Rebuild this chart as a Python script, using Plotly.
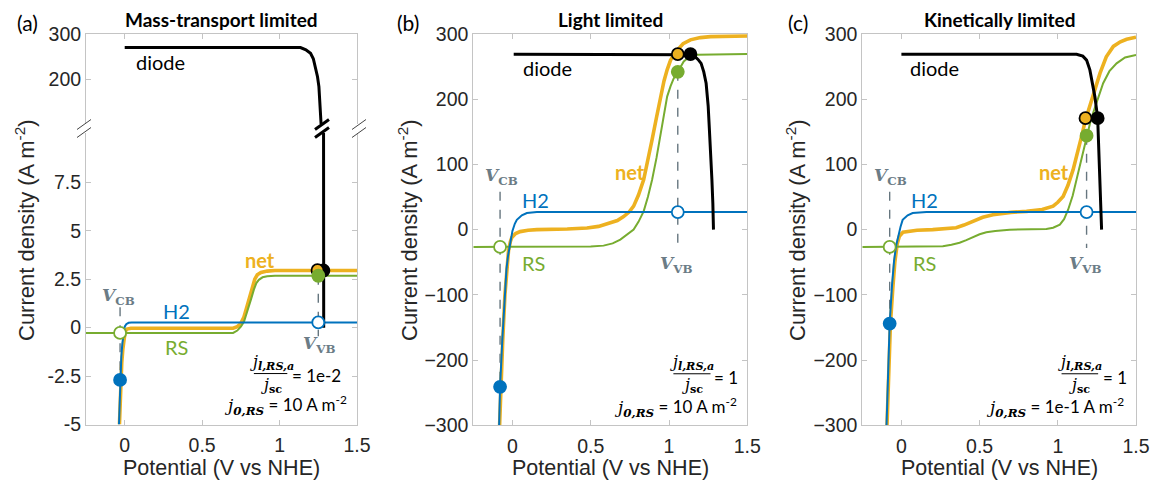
import plotly.graph_objects as go

W, H = 1151, 481
BLUE = '#0072BD'; ORANGE = '#EDB120'; GREEN = '#77AC30'; BLACK = '#000000'
VGRAY = '#6b7c86'; AXC = '#c4c4c4'; TXT = '#262626'

# ---------------- data ----------------
# Panel (a) Mass-transport limited
A_H2_X = [-0.037, -0.03, -0.022, -0.015, -0.008, 0.0, 0.01, 0.025, 0.045, 1.5]
A_H2_Y = [-5, -2.7, -1.5, -0.8, -0.25, 0.05, 0.18, 0.25, 0.27, 0.27]
A_RS_X = [-0.25, 0.70, 0.727, 0.75, 0.77, 0.785, 0.8, 0.817, 0.834, 0.85, 0.866, 0.89, 0.92, 0.97, 1.5]
A_RS_Y = [-0.27, -0.27, -0.15, 0.05, 0.3, 0.65, 1.0, 1.5, 1.96, 2.3, 2.47, 2.6, 2.65, 2.68, 2.68]
A_NET_X = [-0.034, -0.027, -0.019, -0.012, -0.005, 0.003, 0.015, 0.04, 0.70, 0.727, 0.748, 0.77,
           0.79, 0.807, 0.824, 0.84, 0.856, 0.88, 0.92, 0.97, 1.5]
A_NET_Y = [-5, -3.0, -1.8, -1.1, -0.5, -0.2, -0.07, -0.03, -0.03, 0.05, 0.2, 0.55,
           1.1, 1.6, 2.13, 2.5, 2.73, 2.85, 2.92, 2.95, 2.95]
A_DIODE_X = [0.0, 1.135, 1.17, 1.2, 1.218, 1.232, 1.245, 1.254, 1.262, 1.269, 1.275, 1.28, 1.283, 1.285]
A_DIODE_Y = [270, 270, 265, 257, 245, 227, 205, 183, 155, 124, 92, 50, 10, 0]
A_VCB, A_VVB = -0.03, 1.25
A_PTS = dict(h2_cb=-2.7, rs_cb=-0.27, h2_vb=0.27, rs_vb=2.68, net_x=1.245, net_vb=2.97,
             diode_x=1.283, diode_y=2.95)

# Panel (b) Light limited
B_H2_X = [-0.085, -0.079, -0.065, -0.05, -0.038, -0.028, -0.015, 0.0, 0.015, 0.028, 0.06, 0.092, 0.156, 1.5]
B_H2_Y = [-300, -241, -170, -100, -60, -40, -20, -2, 9, 15, 22, 25.5, 27, 27]
B_RS_X = [-0.25, 0.5, 0.582, 0.64, 0.689, 0.735, 0.774, 0.805, 0.838, 0.865, 0.892, 0.92, 0.945,
          0.968, 0.988, 1.01, 1.03, 1.056, 1.094, 1.13, 1.18, 1.5]
B_RS_Y = [-26.5, -26, -24.5, -21, -15.3, -7, 0, 12, 28, 50, 76.5, 110, 143,
          175, 204, 220, 232, 242, 258, 265, 268, 269.5]
B_NET_X = [-0.082, -0.074, -0.062, -0.048, -0.036, -0.025, -0.013, -0.004, 0.02, 0.049, 0.1, 0.156,
           0.35, 0.476, 0.55, 0.625, 0.67, 0.71, 0.745, 0.774, 0.805, 0.838, 0.865, 0.892, 0.92,
           0.945, 0.968, 0.988, 1.01, 1.052, 1.09, 1.137, 1.2, 1.265, 1.5]
B_NET_Y = [-300, -241, -170, -100, -55, -32, -18, -12, -6, -3, -1, 0,
           1, 2.5, 5, 10, 14, 20, 27, 36, 53, 76.5, 105, 138, 172,
           204, 228, 245, 260, 275, 285, 291, 294.5, 296, 297]
B_DIODE_X = [0.008, 1.098, 1.137, 1.162, 1.185, 1.205, 1.222, 1.237, 1.25, 1.258, 1.267, 1.274, 1.28, 1.284]
B_DIODE_Y = [269, 269, 268, 266, 261, 255, 242, 224.5, 190, 153, 115, 76.5, 40, 0]
B_VCB, B_VVB = -0.079, 1.056
B_PTS = dict(h2_cb=-241, rs_cb=-26.5, h2_vb=27, rs_vb=242, net_x=1.056, net_vb=269,
             diode_x=1.137, diode_y=269)

# Panel (c) Kinetically limited
C_H2_X = [-0.095, -0.085, -0.075, -0.06, -0.047, -0.034, -0.02, -0.005, 0.008, 0.04, 0.072, 0.16, 1.5]
C_H2_Y = [-300, -230, -144, -85, -48, -25, -8, 5, 15, 22, 25.5, 27, 27]
C_RS_X = [-0.25, 0.2, 0.265, 0.32, 0.372, 0.415, 0.457, 0.5, 0.543, 0.6, 0.692, 0.8, 0.927, 0.97,
          1.013, 1.04, 1.066, 1.095, 1.12, 1.15, 1.184, 1.205, 1.226, 1.26, 1.29, 1.33, 1.376, 1.43, 1.5]
C_RS_Y = [-26.5, -26.5, -25.5, -23, -20, -16, -11, -7, -4, -2, 0, 0.5, 1, 3,
          7.6, 16, 30.6, 52, 76.5, 108, 144, 162, 179, 205, 224.5, 243, 255, 264, 268]
C_NET_X = [-0.092, -0.082, -0.07, -0.055, -0.042, -0.027, -0.013, 0.01, 0.051, 0.1, 0.2, 0.29, 0.35,
           0.4, 0.457, 0.52, 0.585, 0.7, 0.8, 0.9, 0.97, 1.0, 1.034, 1.065, 1.098, 1.125, 1.152,
           1.177, 1.205, 1.235, 1.27, 1.31, 1.355, 1.4, 1.44, 1.5]
C_NET_Y = [-300, -220, -144, -90, -50, -22, -10, -4, -2.5, -1, 0, 1.5, 3,
           7, 13, 19, 23, 26.5, 28, 31, 36, 42, 51, 68, 92, 116, 143,
           168, 189, 213, 240, 265, 281, 288, 292, 295]
C_DIODE_X = [0.0, 1.12, 1.16, 1.184, 1.205, 1.216, 1.237, 1.255, 1.266, 1.274, 1.28]
C_DIODE_Y = [269, 269, 266, 260, 245, 230, 204, 171, 102, 50, 0]
C_VCB, C_VVB = -0.075, 1.184
C_PTS = dict(h2_cb=-144, rs_cb=-26.5, h2_vb=27, rs_vb=144, net_x=1.177, net_vb=171,
             diode_x=1.255, diode_y=171)

X_TICKS = [0, 0.5, 1, 1.5]
X_TICKTEXT = ['0', '0.5', '1', '1.5']
A_LOW_TICKS = [-5, -2.5, 0, 2.5, 5, 7.5]
A_LOW_TEXT = ['-5', '-2.5', '0', '2.5', '5', '7.5']
A_UP_TICKS = [200, 300]
BC_TICKS = [-300, -200, -100, 0, 100, 200, 300]

TITLES = ['Mass-transport limited', 'Light limited', 'Kinetically limited']
LETTERS = ['(a)', '(b)', '(c)']
RATIOS = ['1e-2', '1', '1']
J0 = ['10', '10', '1e-1']

# ---------------- figure ----------------
fig = go.Figure()

def px(x): return x / W
def py(y): return 1 - y / H

def add_line(x, y, color, width, xa, ya, dash=None):
    fig.add_trace(go.Scatter(x=x, y=y, mode='lines', xaxis=xa, yaxis=ya, showlegend=False,
                             hoverinfo='skip', line=dict(color=color, width=width, dash=dash)))

def add_pt(x, y, fill, edge, xa, ya):
    fig.add_trace(go.Scatter(x=[x], y=[y], mode='markers', xaxis=xa, yaxis=ya, showlegend=False,
                             hoverinfo='skip',
                             marker=dict(size=12, color=fill, line=dict(color=edge, width=1.8))))

panels = [
    dict(h2=(A_H2_X, A_H2_Y), rs=(A_RS_X, A_RS_Y), net=(A_NET_X, A_NET_Y), diode=(A_DIODE_X, A_DIODE_Y),
         vcb=A_VCB, vvb=A_VVB, pts=A_PTS, xa='x', ya='y', vcb_top=1.05, vvb_bot=-0.45),
    dict(h2=(B_H2_X, B_H2_Y), rs=(B_RS_X, B_RS_Y), net=(B_NET_X, B_NET_Y), diode=(B_DIODE_X, B_DIODE_Y),
         vcb=B_VCB, vvb=B_VVB, pts=B_PTS, xa='x3', ya='y3', vcb_top=58, vvb_bot=-28),
    dict(h2=(C_H2_X, C_H2_Y), rs=(C_RS_X, C_RS_Y), net=(C_NET_X, C_NET_Y), diode=(C_DIODE_X, C_DIODE_Y),
         vcb=C_VCB, vvb=C_VVB, pts=C_PTS, xa='x4', ya='y4', vcb_top=58, vvb_bot=-28),
]

for i, p in enumerate(panels):
    xa, ya = p['xa'], p['ya']
    pts = p['pts']
    add_line([p['vcb'], p['vcb']], [p['vcb_top'], pts['h2_cb']], '#66767f', 1.4, xa, ya, dash='dash')
    add_line([p['vvb'], p['vvb']], [pts['rs_vb'], p['vvb_bot']], '#66767f', 1.4, xa, ya, dash='dash')
    add_line(*p['net'], ORANGE, 3.6, xa, ya)
    add_line(*p['rs'], GREEN, 2.0, xa, ya)
    add_line(*p['h2'], BLUE, 2.0, xa, ya)
    add_line(*p['diode'], BLACK, 3.0, xa, ya)
    if i == 0:
        add_line(*p['diode'], BLACK, 3.0, 'x2', 'y2')
    add_pt(p['vcb'], pts['h2_cb'], BLUE, BLUE, xa, ya)
    add_pt(p['vcb'], pts['rs_cb'], 'white', GREEN, xa, ya)
    add_pt(p['vvb'], pts['h2_vb'], 'white', BLUE, xa, ya)
    add_pt(pts['diode_x'], pts['diode_y'], BLACK, BLACK, xa, ya)
    add_pt(pts['net_x'], pts['net_vb'], ORANGE, BLACK, xa, ya)
    add_pt(p['vvb'], pts['rs_vb'], GREEN, GREEN, xa, ya)

# ---------------- axes ----------------
tickfont = dict(family='Liberation Sans, Arial, sans-serif', size=19.5, color=TXT)
base = dict(showline=True, linecolor=AXC, linewidth=1, ticks='inside', ticklen=5, tickcolor=AXC,
            tickwidth=1, showgrid=False, zeroline=False, tickfont=tickfont, fixedrange=True,
            automargin=False)

xa_dom = [86 / W, 357 / W]
xb_dom = [473.3 / W, 747.3 / W]
xc_dom = [862.3 / W, 1136 / W]
xkw = dict(range=[-0.25, 1.5], tickvals=X_TICKS, ticktext=X_TICKTEXT, ticklabelstandoff=3, **base)

fig.update_layout(
    xaxis=dict(domain=xa_dom, anchor='y', **xkw),
    yaxis=dict(domain=[py(424.5), py(133)], anchor='x', range=[-5, 10.05], tickvals=A_LOW_TICKS,
               ticktext=A_LOW_TEXT, mirror='ticks', **base),
    xaxis2=dict(domain=xa_dom, anchor='y2', side='top', showticklabels=False, **xkw),
    yaxis2=dict(domain=[py(124), py(34)], anchor='x2', range=[100, 300], tickvals=A_UP_TICKS,
                mirror='ticks', **base),
    xaxis3=dict(domain=xb_dom, anchor='y3', mirror='ticks', **xkw),
    yaxis3=dict(domain=[py(425.3), py(34)], anchor='x3', range=[-300, 300], tickvals=BC_TICKS,
                mirror='ticks', **base),
    xaxis4=dict(domain=xc_dom, anchor='y4', mirror='ticks', **xkw),
    yaxis4=dict(domain=[py(425.3), py(34)], anchor='x4', range=[-300, 300], tickvals=BC_TICKS,
                mirror='ticks', **base),
    width=W, height=H, autosize=False,
    margin=dict(l=0, r=0, t=0, b=0, pad=0, autoexpand=False),
    plot_bgcolor='white', paper_bgcolor='white',
)

ann = []
LBL = 'Lato, Carlito, sans-serif'
SERIF = 'DejaVu Serif, Liberation Serif, serif'

def txt(x, y, text, xref, yref, size=20, color=BLACK, family=LBL, xanchor='center', yanchor='middle', angle=0):
    ann.append(dict(x=x, y=y, xref=xref, yref=yref, text=text, showarrow=False,
                    font=dict(family=family, size=size, color=color), xanchor=xanchor, yanchor=yanchor,
                    textangle=angle, borderpad=0))

centers = [221.5, 610.3, 999.2]
ylab_x = [25, 408, 796]
letter_x = [27, 408, 798]
for i in range(3):
    txt(px(centers[i]), py(19), '<b>%s</b>' % TITLES[i], 'paper', 'paper', size=19)
    txt(px(letter_x[i]), py(22), LETTERS[i], 'paper', 'paper', size=21)
    txt(px(centers[i]), py(468), 'Potential (V vs NHE)', 'paper', 'paper', size=21.5,
        family='Liberation Sans, Arial, sans-serif', color=TXT)
    txt(px(ylab_x[i]), py(230), 'Current density (A m<sup>-2</sup>)', 'paper', 'paper', size=22,
        family='Liberation Sans, Arial, sans-serif', color=TXT, angle=-90)

VCB = '<b><i>V</i></b><sub><b>CB</b></sub>'
VVB = '<b><i>V</i></b><sub><b>VB</b></sub>'
labels = [
    dict(xr='x', yr='y', vcb=(-0.037, 1.6), vvb=(1.254, -0.88), h2=(0.333, 0.84), rs=(0.333, -1.0),
         net=(0.873, 3.5), diode=(0.23, 238, 'x2', 'y2'),
         frac=(0.95, -2.37, 0.834, 1.05), eq=(1.071, -2.45), j0=(1.439, -3.97)),
    dict(xr='x3', yr='y3', vcb=(-0.07, 81.6), vvb=(1.045, -53.6), h2=(0.145, 45), rs=(0.136, -51),
         net=(0.753, 87.7), diode=(0.222, 247.5, 'x3', 'y3'),
         frac=(1.147, -221, 1.028, 1.265), eq=(1.284, -226), j0=(1.438, -272.5)),
    dict(xr='x4', yr='y4', vcb=(-0.07, 81.6), vvb=(1.173, -53.6), h2=(0.147, 45), rs=(0.147, -51),
         net=(0.974, 87.7), diode=(0.212, 247.5, 'x4', 'y4'),
         frac=(1.141, -221, 1.024, 1.258), eq=(1.282, -226), j0=(1.43, -272.5)),
]
shapes = []
for i, L in enumerate(labels):
    xr, yr = L['xr'], L['yr']
    txt(*L['vcb'], VCB, xr, yr, size=17, color=VGRAY, family=SERIF)
    txt(*L['vvb'], VVB, xr, yr, size=17, color=VGRAY, family=SERIF)
    txt(*L['h2'], 'H2', xr, yr, color=BLUE)
    txt(*L['rs'], 'RS', xr, yr, color=GREEN)
    txt(*L['net'], '<b>net</b>', xr, yr, color=ORANGE)
    dx, dy, dxr, dyr = L['diode']
    txt(dx, dy, 'diode', dxr, dyr)
    fc, fb, b0, b1 = L['frac']
    txt(fc, fb, '<i>j</i><sub><b><i>l,RS,a</i></b></sub>', xr, yr, size=16, family=SERIF,
        yanchor='bottom')
    txt(fc, fb, '<i>j</i><sub><b>sc</b></sub>', xr, yr, size=16, family=SERIF, yanchor='top')
    shapes.append(dict(type='line', xref=xr, yref=yr, x0=b0, x1=b1, y0=fb, y1=fb,
                       line=dict(color=BLACK, width=1)))
    txt(L['eq'][0], L['eq'][1], '= ' + RATIOS[i], xr, yr, size=17, xanchor='left')
    txt(L['j0'][0], L['j0'][1],
        '<span style="font-family:DejaVu Serif"><i>j</i><sub><b><i>0,RS</i></b></sub></span> = %s A m<sup>-2</sup>' % J0[i],
        xr, yr, size=17, xanchor='right')

def brk(cx, cy, color, width):
    for off in (-4, 4):
        shapes.append(dict(type='line', xref='paper', yref='paper',
                           x0=px(cx - 7), y0=py(cy + off + 5), x1=px(cx + 7), y1=py(cy + off - 5),
                           line=dict(color=color, width=width)))

brk(84, 128.5, '#444444', 1)
brk(359, 128.5, '#444444', 1)
brk(322, 128.5, BLACK, 3)

fig.update_layout(annotations=ann, shapes=shapes)
fig.write_html('out.html')
